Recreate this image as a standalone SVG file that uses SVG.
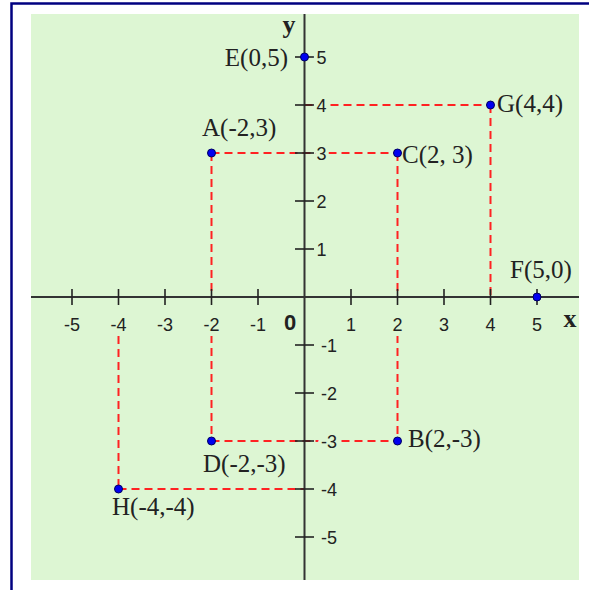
<svg xmlns="http://www.w3.org/2000/svg" width="589" height="590" viewBox="0 0 589 590">
<style>
.bg{fill:#ddf6d3}
.frame{fill:none;stroke:#000080;stroke-width:2.5}
.axis{stroke:#333;stroke-width:2;fill:none}
.tick{stroke:#222;stroke-width:1.6}
.dash{stroke:#f22;stroke-width:2;fill:none;stroke-dasharray:8 5}
.dot{fill:#0000f0;stroke:#000060;stroke-width:1}
.pl{font-family:"Liberation Serif","Times New Roman",serif;font-size:25px;fill:#222}
.al{font-family:"Liberation Sans",Arial,sans-serif;font-size:18px;fill:#222;stroke:#ddf6d3;stroke-width:7;stroke-linejoin:round;paint-order:stroke}
.ax{font-family:"Liberation Serif","Times New Roman",serif;font-size:26px;font-weight:bold;fill:#222}
.zero{font-family:"Liberation Sans",Arial,sans-serif;font-size:22px;font-weight:bold;fill:#222}
</style>
<rect width="589" height="590" fill="#fff"/>
<path class="frame" d="M11.5,590 V3.5 H589"/>
<rect class="bg" x="31" y="14" width="548" height="566"/>

<g id="connectors">
<path class="dash" d="M211.5,153 H397.5"/>
<path class="dash" d="M211.5,153 V441"/>
<path class="dash" d="M397.5,153 V441"/>
<path class="dash" d="M211.5,441 H397.5"/>
<path class="dash" d="M304.5,105 H490.5"/>
<path class="dash" d="M490.5,105 V297"/>
<path class="dash" d="M118.5,489 H304.5"/>
<path class="dash" d="M118.5,297 V489"/>
</g>
<g class="bg">
<rect x="108" y="298" width="21" height="38"/>
<rect x="201" y="298" width="21" height="38"/>
<rect x="390" y="298" width="15" height="38"/>
</g>

<g id="axes">
<line class="axis" x1="31" y1="297" x2="579" y2="297"/>
<line class="axis" x1="304.5" y1="14" x2="304.5" y2="580"/>
<g class="tick">
<line x1="72" y1="289" x2="72" y2="305"/>
<line x1="118.5" y1="289" x2="118.5" y2="305"/>
<line x1="165" y1="289" x2="165" y2="305"/>
<line x1="211.5" y1="289" x2="211.5" y2="305"/>
<line x1="258" y1="289" x2="258" y2="305"/>
<line x1="351" y1="289" x2="351" y2="305"/>
<line x1="397.5" y1="289" x2="397.5" y2="305"/>
<line x1="444" y1="289" x2="444" y2="305"/>
<line x1="490.5" y1="289" x2="490.5" y2="305"/>
<line x1="537" y1="289" x2="537" y2="305"/>
<line x1="295" y1="57" x2="314" y2="57"/>
<line x1="295" y1="105" x2="314" y2="105"/>
<line x1="295" y1="153" x2="314" y2="153"/>
<line x1="295" y1="201" x2="314" y2="201"/>
<line x1="295" y1="249" x2="314" y2="249"/>
<line x1="295" y1="345" x2="314" y2="345"/>
<line x1="295" y1="393" x2="314" y2="393"/>
<line x1="295" y1="441" x2="314" y2="441"/>
<line x1="295" y1="489" x2="314" y2="489"/>
<line x1="295" y1="537" x2="314" y2="537"/>
</g>
<g class="al" text-anchor="middle">
<text x="72" y="331">-5</text>
<text x="118.5" y="331">-4</text>
<text x="165" y="331">-3</text>
<text x="211.5" y="331">-2</text>
<text x="258" y="331">-1</text>
<text x="351" y="331">1</text>
<text x="397.5" y="331">2</text>
<text x="444" y="331">3</text>
<text x="490.5" y="331">4</text>
<text x="537" y="331">5</text>
</g>
<g class="al">
<text x="316.5" y="64">5</text>
<text x="316.5" y="112">4</text>
<text x="316.5" y="160">3</text>
<text x="316.5" y="208">2</text>
<text x="316.5" y="256">1</text>
<text x="321" y="352">-1</text>
<text x="321" y="400">-2</text>
<text x="321" y="448">-3</text>
<text x="321" y="496">-4</text>
<text x="321" y="544">-5</text>
</g>
<text class="zero" x="290" y="330" text-anchor="middle">0</text>
<text class="ax" x="570" y="327" text-anchor="middle">x</text>
<text class="ax" x="289" y="33" text-anchor="middle">y</text>
</g>

<g id="E"><circle class="dot" cx="304.5" cy="57" r="4"/><text class="pl" x="288" y="66" text-anchor="end">E(0,5)</text></g>
<g id="A"><circle class="dot" cx="211.5" cy="153" r="4"/><text class="pl" x="202" y="136">A(-2,3)</text></g>
<g id="C"><circle class="dot" cx="397.5" cy="153" r="4"/><text class="pl" x="402" y="163">C(2, 3)</text></g>
<g id="G"><circle class="dot" cx="490.5" cy="105" r="4"/><text class="pl" x="497" y="112">G(4,4)</text></g>
<g id="F"><circle class="dot" cx="537" cy="297" r="4"/><text class="pl" x="510" y="278">F(5,0)</text></g>
<g id="B"><circle class="dot" cx="397.5" cy="441" r="4"/><text class="pl" x="408" y="447">B(2,-3)</text></g>
<g id="D"><circle class="dot" cx="211.5" cy="441" r="4"/><text class="pl" x="203" y="472">D(-2,-3)</text></g>
<g id="H"><circle class="dot" cx="118.5" cy="489" r="4"/><text class="pl" x="112" y="515">H(-4,-4)</text></g>
</svg>
